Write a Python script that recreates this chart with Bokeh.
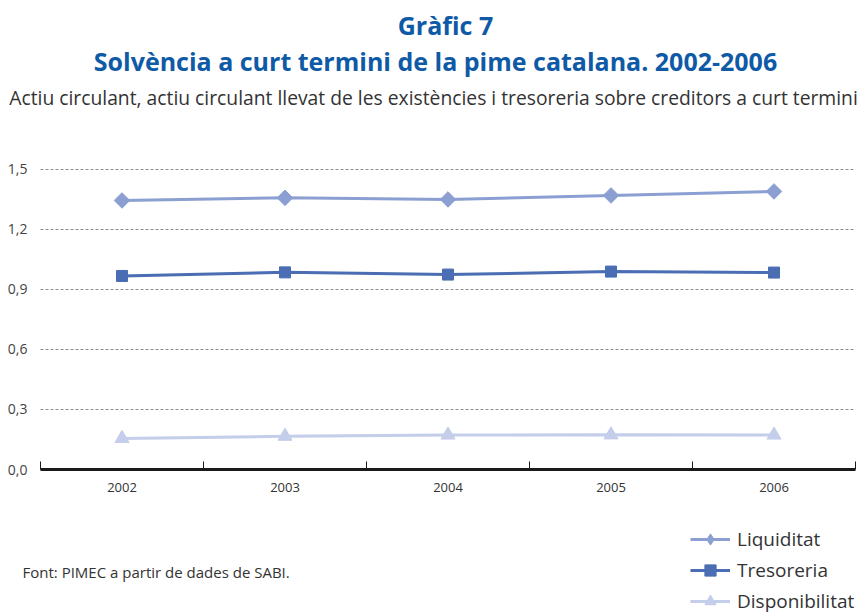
import math
from bokeh.plotting import figure
from bokeh.models import (Range1d, FixedTicker, CustomJSTickFormatter, Label,
                          Legend, LegendItem, ColumnDataSource)
from bokeh.embed import file_html
from bokeh.resources import INLINE

# ---- data ----
years = ["2002", "2003", "2004", "2005", "2006"]
liquiditat = [1.343, 1.356, 1.348, 1.368, 1.388]
tresoreria = [0.966, 0.984, 0.973, 0.988, 0.983]
disponibilitat = [0.155, 0.166, 0.172, 0.173, 0.172]
y_ticks = [0.0, 0.3, 0.6, 0.9, 1.2, 1.5]
y_max = 1.5
series_names = ["Liquiditat", "Tresoreria", "Disponibilitat"]

title1 = "Gràfic 7"
title2 = "Solvència a curt termini de la pime catalana. 2002-2006"
subtitle = "Actiu circulant, actiu circulant llevat de les existències i tresoreria sobre creditors a curt termini"
source_note = "Font: PIMEC a partir de dades de SABI."

# ---- styles / layout ----
FONT = "Open Sans"
BLUE_TITLE = "#0f5aa6"
TEXT = "#333333"
C_LIQ = "#8c9fd2"
C_TRE = "#4a6db3"
C_DIS = "#c4cde9"

W, H = 861, 615
PX_LEFT, PX_RIGHT = 40, 855      # pixel span of the category axis
PX_ZERO, PX_TOP = 469, 168.5     # pixel rows of y=0 and y=y_max

n = len(years)
ux = (PX_RIGHT - PX_LEFT) / n
uy = (PX_ZERO - PX_TOP) / y_max
x_range = Range1d(-PX_LEFT / ux, n + (W - PX_RIGHT) / ux)
y_range = Range1d(-(H - PX_ZERO) / uy, y_max + PX_TOP / uy)

xs = [i + 0.5 for i in range(n)]
src = ColumnDataSource(dict(x=xs, year=years, liq=liquiditat, tre=tresoreria, dis=disponibilitat))

p = figure(width=W, height=H, x_range=x_range, y_range=y_range,
           output_backend="svg", toolbar_location=None,
           min_border_left=0, min_border_right=0, min_border_top=0, min_border_bottom=0)
p.outline_line_color = None
p.background_fill_color = "white"
p.border_fill_color = "white"

# grid
p.xgrid.grid_line_color = None
p.ygrid.ticker = FixedTicker(ticks=y_ticks)
p.ygrid.cross_bounds = (0, n)
p.ygrid.grid_line_color = "#8c8c8c"
p.ygrid.grid_line_dash = "3 2"
p.ygrid.grid_line_width = 1

# y axis
p.yaxis.fixed_location = 0
p.yaxis.ticker = FixedTicker(ticks=y_ticks)
p.yaxis.formatter = CustomJSTickFormatter(code="return tick.toFixed(1).replace('.', ',');")
p.yaxis.axis_line_color = None
p.yaxis.major_tick_line_color = None
p.yaxis.minor_tick_line_color = None
p.yaxis.major_tick_in = 0
p.yaxis.major_tick_out = 0
p.yaxis.major_label_standoff = 13
p.yaxis.major_label_text_font = FONT
p.yaxis.major_label_text_font_size = "14px"
p.yaxis.major_label_text_color = "#444444"

# x axis
p.xaxis.fixed_location = 0
p.xaxis.bounds = (0, n)
p.xaxis.ticker = FixedTicker(ticks=xs, minor_ticks=list(range(n + 1)))
p.xaxis.formatter = CustomJSTickFormatter(args=dict(years=years),
                                          code="return years[Math.floor(tick)];")
p.xaxis.axis_line_width = 3
p.xaxis.axis_line_color = "#1a1a1a"
p.xaxis.major_tick_line_color = None
p.xaxis.major_tick_in = 0
p.xaxis.major_tick_out = 0
p.xaxis.minor_tick_in = 8
p.xaxis.minor_tick_out = 0
p.xaxis.minor_tick_line_color = "#1a1a1a"
p.xaxis.minor_tick_line_width = 1
p.xaxis.major_label_standoff = 13
p.xaxis.major_label_text_font = FONT
p.xaxis.major_label_text_font_size = "13px"
p.xaxis.major_label_text_color = "#333333"

# series
l1 = p.line("x", "liq", source=src, line_width=3, line_color=C_LIQ)
m1 = p.scatter("x", "liq", source=src, marker="square", angle=math.pi / 4, size=11,
               fill_color=C_LIQ, line_color=C_LIQ)
# same points as an upright diamond (hidden inside the rotated square); used for the legend key,
# because legend swatches ignore the marker angle
m1_key = p.scatter("x", "liq", source=src, marker="diamond", size=11,
                   fill_color=C_LIQ, line_color=C_LIQ)
l2 = p.line("x", "tre", source=src, line_width=3, line_color=C_TRE)
m2 = p.scatter("x", "tre", source=src, marker="square", size=11,
               fill_color=C_TRE, line_color=C_TRE)
l3 = p.line("x", "dis", source=src, line_width=3, line_color=C_DIS)
m3 = p.scatter("x", "dis", source=src, marker="triangle", size=14,
               fill_color=C_DIS, line_color=C_DIS)

legend = Legend(items=[LegendItem(label=series_names[0], renderers=[l1, m1_key]),
                       LegendItem(label=series_names[1], renderers=[l2, m2]),
                       LegendItem(label=series_names[2], renderers=[l3, m3])],
                location=(690, 0))
legend.border_line_color = None
legend.background_fill_alpha = 0
legend.padding = 0
legend.margin = 0
legend.spacing = 3
legend.glyph_height = 28
legend.glyph_width = 40
legend.label_height = 28
legend.label_standoff = 7
legend.label_text_font = FONT
legend.label_text_font_size = "19px"
legend.label_text_color = TEXT
p.add_layout(legend)

# texts
p.add_layout(Label(x=445, y=24, x_units="canvas", y_units="canvas", text=title1,
                   text_align="center", text_baseline="middle", text_font=FONT,
                   text_font_size="25px", text_font_style="bold", text_color=BLUE_TITLE))
p.add_layout(Label(x=435, y=60, x_units="canvas", y_units="canvas", text=title2,
                   text_align="center", text_baseline="middle", text_font=FONT,
                   text_font_size="25px", text_font_style="bold", text_color=BLUE_TITLE))
p.add_layout(Label(x=433, y=97, x_units="canvas", y_units="canvas", text=subtitle,
                   text_align="center", text_baseline="middle", text_font=FONT,
                   text_font_size="19.3px", text_color=TEXT))
p.add_layout(Label(x=22, y=571, x_units="canvas", y_units="canvas", text=source_note,
                   text_align="left", text_baseline="middle", text_font=FONT,
                   text_font_size="15px", text_color=TEXT))

open("out.html", "w").write(file_html(p, INLINE))
